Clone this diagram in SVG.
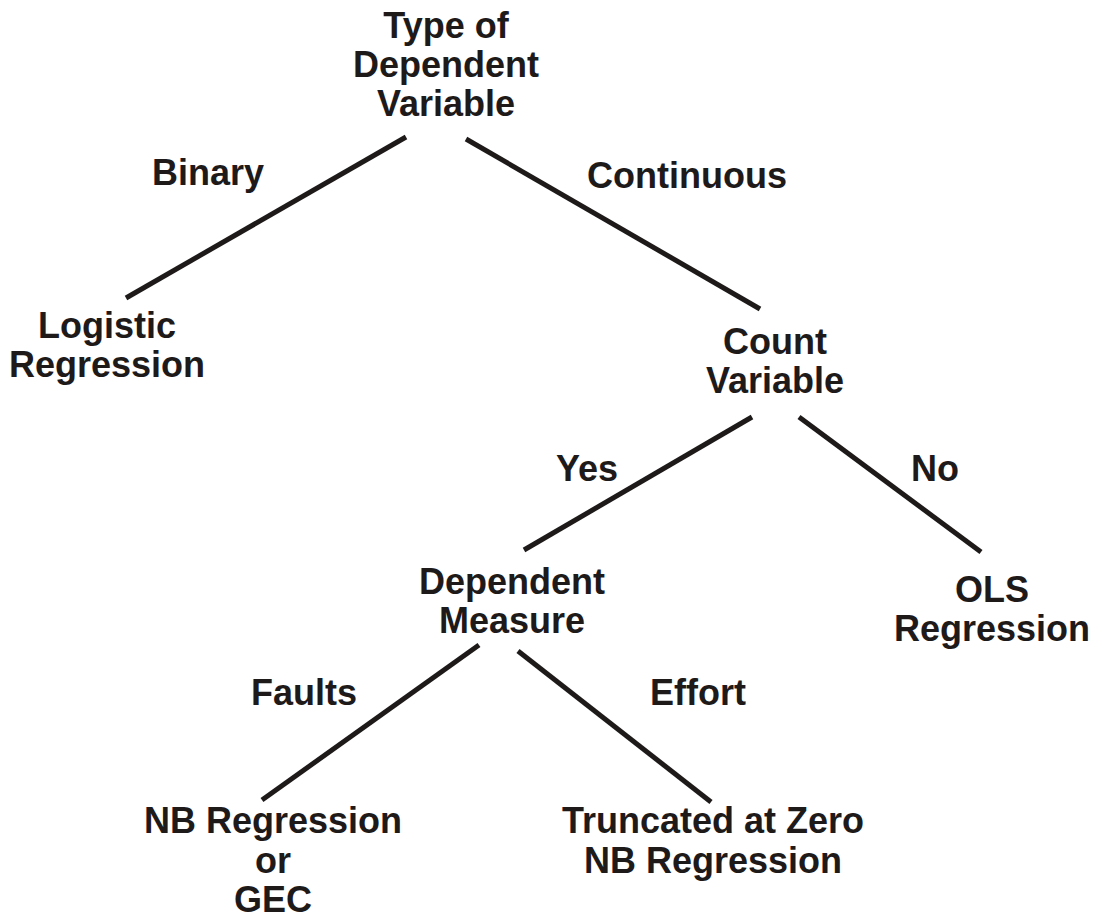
<svg xmlns="http://www.w3.org/2000/svg" width="1096" height="920" viewBox="0 0 1096 920">
  <style>
    text { font-family: "Liberation Sans", Arial, sans-serif; font-weight: bold; font-size: 36px; fill: #1e1a1a; text-anchor: middle; }
    .edge { stroke: #1e1a1a; stroke-width: 5; fill: none; stroke-linecap: butt; }
  </style>
  <rect width="1096" height="920" fill="#ffffff"/>
  <g id="connectors">
    <line class="edge" x1="406" y1="137" x2="126" y2="298"/>
    <line class="edge" x1="466" y1="139" x2="760" y2="309"/>
    <line class="edge" x1="752" y1="417" x2="524" y2="550"/>
    <line class="edge" x1="799" y1="417" x2="981" y2="552"/>
    <line class="edge" x1="479" y1="645" x2="262" y2="800"/>
    <line class="edge" x1="518" y1="651" x2="711" y2="802"/>
    <text x="208" y="185">Binary</text>
    <text x="687" y="188">Continuous</text>
    <text x="587" y="481">Yes</text>
    <text x="935" y="481">No</text>
    <text x="304" y="705">Faults</text>
    <text x="698" y="705">Effort</text>
  </g>
  <g id="node-root">
    <text x="446" y="38">Type of</text>
    <text x="446" y="77">Dependent</text>
    <text x="446" y="116">Variable</text>
  </g>
  <g id="node-logistic">
    <text x="107" y="338">Logistic</text>
    <text x="107" y="377">Regression</text>
  </g>
  <g id="node-count">
    <text x="775" y="354">Count</text>
    <text x="775" y="393">Variable</text>
  </g>
  <g id="node-measure">
    <text x="512" y="594">Dependent</text>
    <text x="512" y="633">Measure</text>
  </g>
  <g id="node-ols">
    <text x="992" y="602">OLS</text>
    <text x="992" y="641">Regression</text>
  </g>
  <g id="node-nb">
    <text x="273" y="833">NB Regression</text>
    <text x="273" y="873">or</text>
    <text x="273" y="912">GEC</text>
  </g>
  <g id="node-truncated">
    <text x="713" y="833">Truncated at Zero</text>
    <text x="713" y="873">NB Regression</text>
  </g>
</svg>
